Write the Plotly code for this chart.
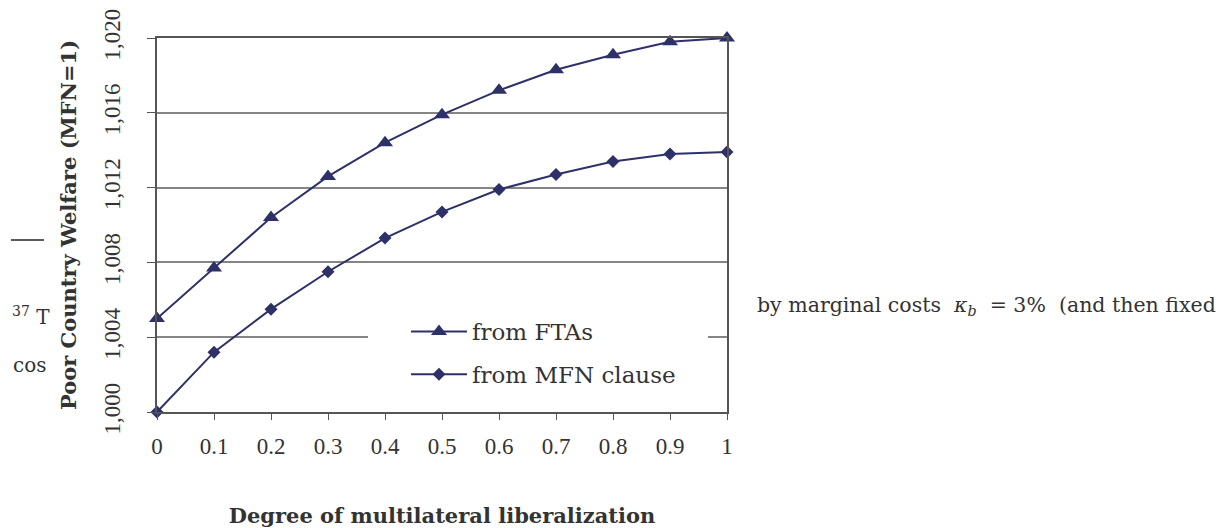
"""Poor country welfare against degree of multilateral liberalization."""

import plotly.graph_objects as go

LIBERALIZATION = [0, 0.1, 0.2, 0.3, 0.4, 0.5, 0.6, 0.7, 0.8, 0.9, 1]
WELFARE_FTAS = [1.0050, 1.0077, 1.0104, 1.0126, 1.0144, 1.0159,
                1.0172, 1.0183, 1.0191, 1.0198, 1.0200]
WELFARE_MFN = [1.0000, 1.0032, 1.0055, 1.0075, 1.0093, 1.0107,
               1.0119, 1.0127, 1.0134, 1.0138, 1.0139]
Y_TICKS = [1.000, 1.004, 1.008, 1.012, 1.016, 1.020]
Y_TICK_LABELS = ["1,000", "1,004", "1,008", "1,012", "1,016", "1,020"]
X_TICK_LABELS = ["0", "0.1", "0.2", "0.3", "0.4", "0.5",
                 "0.6", "0.7", "0.8", "0.9", "1"]

Y_MIN, Y_MAX = 1.000, 1.020

LINE_COLOR = "#2e3168"
AXIS_COLOR = "#555555"
FONT = "DejaVu Serif"
DIGIT_FONT = "Liberation Serif"
TEXT_COLOR = "#333333"

# page has an 8px body margin, so the figure is drawn 8px in
PAGE_OFFSET = 8
FIG_W, FIG_H = 1230 - PAGE_OFFSET, 528 - PAGE_OFFSET

# plot area in page pixels (left, right, top, bottom)
PLOT_L, PLOT_R, PLOT_T, PLOT_B = 157, 727, 38, 412


def px_to_paper(px_x, px_y):
    """Convert page pixel position to paper coordinates."""
    return ((px_x - PLOT_L) / (PLOT_R - PLOT_L),
            (PLOT_B - px_y) / (PLOT_B - PLOT_T))


fig = go.Figure()

fig.add_trace(go.Scatter(
    x=LIBERALIZATION, y=WELFARE_FTAS, name="from FTAs",
    mode="lines+markers", legendgroup="a",
    line=dict(color=LINE_COLOR, width=2),
    marker=dict(symbol="triangle-up", size=14, color=LINE_COLOR),
    cliponaxis=False,
))
fig.add_trace(go.Scatter(
    x=LIBERALIZATION, y=WELFARE_MFN, name="from MFN clause",
    mode="lines+markers", legendgroup="b",
    line=dict(color=LINE_COLOR, width=2),
    marker=dict(symbol="diamond", size=10, color=LINE_COLOR),
    cliponaxis=False,
))

fig.update_xaxes(
    range=[0, 1], tickvals=LIBERALIZATION, ticktext=X_TICK_LABELS,
    showgrid=False, zeroline=False, automargin=False,
    showline=True, linecolor=AXIS_COLOR, linewidth=1.5, mirror=True,
    ticks="outside", ticklen=6, tickcolor=AXIS_COLOR,
    ticklabelstandoff=7,
    tickfont=dict(family=DIGIT_FONT, size=23, color=TEXT_COLOR),
    title=dict(text="<b>Degree of multilateral liberalization</b>",
               font=dict(family=FONT, size=21, color=TEXT_COLOR),
               standoff=54),
)
fig.update_yaxes(
    range=[Y_MIN, Y_MAX], tickvals=Y_TICKS, ticktext=Y_TICK_LABELS,
    tickangle=-90,
    showgrid=True, gridcolor="#858585", gridwidth=1.5, zeroline=False,
    automargin=False,
    showline=True, linecolor=AXIS_COLOR, linewidth=1.5, mirror=True,
    ticks="outside", ticklen=8, tickcolor=AXIS_COLOR,
    ticklabelstandoff=18,
    tickfont=dict(family=DIGIT_FONT, size=23, color=TEXT_COLOR),
    title=dict(text="<b>Poor Country Welfare (MFN=1)</b>",
               font=dict(family=FONT, size=21, color=TEXT_COLOR),
               standoff=18),
)

# white box of the legend, hiding the gridline behind it (above grid, below data)
box_x0, box_y0 = px_to_paper(368, 398)
box_x1, box_y1 = px_to_paper(708, 300)
fig.add_shape(type="rect", xref="x", yref="y", layer="between",
              x0=box_x0, x1=box_x1,
              y0=Y_MIN + box_y0 * (Y_MAX - Y_MIN),
              y1=Y_MIN + box_y1 * (Y_MAX - Y_MIN),
              fillcolor="white", line=dict(width=0))

# stray page text around the chart
dash_x0, dash_y = px_to_paper(11, 240)
dash_x1, _ = px_to_paper(44, 240)
fig.add_shape(type="line", xref="paper", yref="paper",
              x0=dash_x0, x1=dash_x1, y0=dash_y, y1=dash_y,
              line=dict(color="#222222", width=1.5))
stray = [
    ("<sup>37</sup> T", 10, 316, 20),
    ("cos", 11, 365, 20),
    ("by marginal costs  <i>κ</i><sub><i>b</i></sub>  = 3%  (and then fixed",
     755, 306, 20.5),
]
for text, px_x, px_y, size in stray:
    ax, ay = px_to_paper(px_x, px_y)
    fig.add_annotation(
        text=text, xref="paper", yref="paper", x=ax, y=ay,
        xanchor="left", yanchor="middle", showarrow=False,
        font=dict(family=FONT, size=size, color=TEXT_COLOR),
    )

leg_x, leg_y = px_to_paper(406, 310)
fig.update_layout(
    width=FIG_W, height=FIG_H,
    margin=dict(l=PLOT_L - PAGE_OFFSET, r=FIG_W - (PLOT_R - PAGE_OFFSET),
                t=PLOT_T - PAGE_OFFSET, b=FIG_H - (PLOT_B - PAGE_OFFSET)),
    plot_bgcolor="white", paper_bgcolor="white",
    showlegend=True,
    legend=dict(
        x=leg_x, y=leg_y, xanchor="left", yanchor="top",
        bgcolor="rgba(0,0,0,0)", borderwidth=0,
        font=dict(family=FONT, size=23, color=TEXT_COLOR),
        traceorder="grouped", tracegroupgap=10, itemwidth=56,
    ),
)

fig.write_html("out.html")
